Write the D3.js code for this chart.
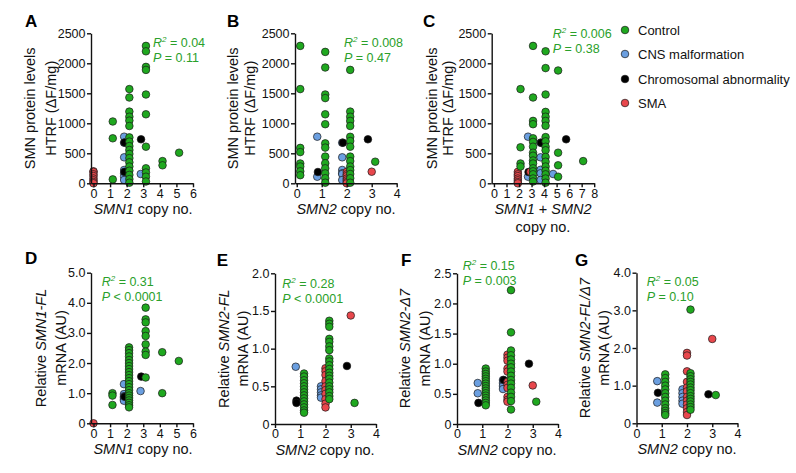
<!DOCTYPE html>
<html><head><meta charset="utf-8">
<script src="https://cdn.jsdelivr.net/npm/d3@7"></script>
<style>body{margin:0;background:#fff;} svg{display:block;font-family:Arial,"Liberation Sans",sans-serif;}</style>
</head><body><svg id="c" width="796" height="473"></svg>
<script>
// ---------- DATA ----------
const groupNames = ["Control", "CNS malformation", "Chromosomal abnormality", "SMA"];

// each entry: [copy number, [values...]]
const A_control = [[1,[1030,750,65]],[2,[1570,1430,1195,1110,1045,955,765,695,620,555,490,420,350,280,210,140,70,10]],[3,[2290,2200,1940,1890,1480,1150,610,250,180,110,30]],[4,[370,300]],[5,[510]]];
const A_cns = [[2,[777,677,433,222,167,110,55]],[3,[155]]];
const A_chrom = [[2,[680,190]],[3,[733]]];
const A_sma = [[0,[200,190,150,120,80,50,20,0]]];

const B_control = [[0,[2290,1570,590,520,330,280,200,135]],[1,[2190,1930,1480,1420,1150,985,665,595,445,335,250,165,85,10]],[2,[1890,1195,1110,1040,955,775,705,610,445,370,280,220,155,85,10]],[3,[360]]];
const B_cns = [[1,[777,110]],[2,[677,433,222,167,155,55]]];
const B_chrom = [[1,[188]],[2,[677]],[3,[733]]];
const B_sma = [[2,[190,150,120,80,50,20,0]],[3,[193]]];

const C_control = [[2,[1570,600,330,280]],[3,[2290,1430,1040,985,750,690,610,510,460,380,330,250,200,150,80,30]],[4,[2200,1920,1480,1190,1110,1040,960,770,700,610,550,440,360,280,210,150,80,10]],[5,[1880,510,300,110]],[7,[370]]];
const C_cns = [[3,[777,110]],[4,[677,433,225,167,55]],[5,[155]]];
const C_chrom = [[3,[188]],[4,[677]],[6,[733]]];
const C_sma = [[2,[190,150,120,80,50,20,0]],[3,[193]]];

const D_control = [[1,[1.0,0.92,0.61]],[2,[2.52,2.43,2.33,2.22,2.1,2.0,1.9,1.8,1.7,1.6,1.5,1.4,1.3,1.2,1.1,1.0,0.92,0.84,0.76,0.68,0.6,0.53]],[3,[3.84,3.45,3.35,3.06,2.9,2.62,2.38,2.27,1.52]],[4,[2.36,1.0]],[5,[2.07]]];
const D_cns = [[2,[1.3,0.97,0.9,0.85,0.8,0.75]],[3,[1.07]]];
const D_chrom = [[2,[0.88]],[3,[1.55]]];
const D_sma = [[0,[0]]];

const E_control = [[1,[0.67,0.63,0.58,0.54,0.5,0.46,0.42,0.38,0.34,0.3,0.26,0.22,0.18,0.15]],[2,[1.37,1.33,1.29,1.13,1.09,1.03,0.98,0.87,0.83,0.78,0.73,0.68,0.64,0.6,0.55,0.5,0.46,0.42,0.37,0.33]],[3,[0.28]]];
const E_cns = [[1,[0.76]],[2,[0.5,0.46,0.42,0.38,0.35]]];
const E_chrom = [[1,[0.31,0.28]],[3,[0.77]]];
const E_sma = [[2,[0.74,0.7,0.65,0.57,0.5,0.45,0.4,0.33,0.27,0.22]],[3,[1.44]]];

const F_control = [[1,[0.92,0.87,0.83,0.79,0.75,0.71,0.67,0.63,0.59,0.55,0.51,0.47,0.43,0.39,0.35,0.31]],[2,[2.22,1.52,1.22,1.14,1.07,1.0,0.94,0.87,0.8,0.73,0.67,0.6,0.52,0.45,0.38,0.24]],[3,[0.37]]];
const F_cns = [[1,[0.68,0.51]],[2,[0.73,0.68,0.63,0.58]]];
const F_chrom = [[1,[0.35]],[2,[0.73]],[3,[1.0]]];
const F_sma = [[2,[1.15,1.1,1.05,0.92,0.87,0.7,0.65,0.6,0.45,0.4,0.37]],[3,[0.64]]];

const G_control = [[1,[1.3,1.2,1.1,1.0,0.9,0.8,0.7,0.6,0.5,0.4,0.33,0.27,0.22]],[2,[3.02,1.33,1.25,1.17,1.1,1.03,0.95,0.88,0.8,0.72,0.65,0.58,0.5,0.43,0.36]],[3,[0.75]]];
const G_cns = [[1,[1.12,0.55]],[2,[0.9,0.8,0.7,0.6,0.52]]];
const G_chrom = [[1,[0.81]],[3,[0.77]]];
const G_sma = [[2,[1.87,1.8,1.38,1.1,0.95,0.85,0.7,0.6,0.5,0.4,0.3,0.22]],[3,[2.24]]];

const statsR2 = {A:"0.04",B:"0.008",C:"0.006",D:"0.31",E:"0.28",F:"0.15",G:"0.05"};
const statsP = {A:"= 0.11",B:"= 0.47",C:"= 0.38",D:"< 0.0001",E:"< 0.0001",F:"= 0.003",G:"= 0.10"};

const xTicksA = [0,1,2,3,4,5,6];
const xTicks4 = [0,1,2,3,4];
const xTicksC = [0,1,2,3,4,5,6,7,8];
const yTicksProtein = [0,500,1000,1500,2000,2500];
const yTicksD = [0,1,2,3,4,5];
const yTicksE = [0,0.5,1,1.5,2];
const yTicksF = [0,0.5,1,1.5,2,2.5];
const yTicksG = [0,1,2,3,4];

// ---------- STYLE ----------
const colors = ["#1fa81f", "#6b9fe0", "#000000", "#e8474c"];
const green = "#2aa02a";
const svg = d3.select("#c");

const panels = [
 {id:"A", data:[A_cns,A_chrom,A_sma,A_control], gi:[1,2,3,0], xr:[91,193], xd:[-0.15,6], xt:xTicksA, yr:[183.3,33.3], yd:[0,2500], yt:yTicksProtein, yf:d=>d,
  lab:[25,27], yTitle:[["SMN protein levels"],["HTRF (ΔF/mg)"]], yOff:[-61,-40], xTitle:[[["SMN1",1],[" copy no.",0]]], xtc:143, st:[153,46.5], off:[2.7,-2.5,-2.2,0]},
 {id:"B", data:[B_cns,B_chrom,B_sma,B_control], gi:[1,2,3,0], xr:[295,396.7], xd:[-0.07,4], xt:xTicks4, yr:[183.3,33.3], yd:[0,2500], yt:yTicksProtein, yf:d=>d,
  lab:[227,27], yTitle:[["SMN protein levels"],["HTRF (ΔF/mg)"]], yOff:[-62,-45], xTitle:[[["SMN2",1],[" copy no.",0]]], xtc:346, st:[344,46.5], off:[3.5,-4.5,-3.8,0]},
 {id:"C", data:[C_cns,C_chrom,C_sma,C_control], gi:[1,2,3,0], xr:[491.7,594.2], xd:[-0.18,8], xt:xTicksC, yr:[183.3,33.3], yd:[0,2500], yt:yTicksProtein, yf:d=>d,
  lab:[423,27], yTitle:[["SMN protein levels"],["HTRF (ΔF/mg)"]], yOff:[-60,-44], xTitle:[[["SMN1",1],[" + ",0],["SMN2",1]],[["copy no.",0]]], xtc:543, st:[552.7,37.5], off:[1.5,-3.5,-3,-1.2]},
 {id:"D", data:[D_cns,D_chrom,D_sma,D_control], gi:[1,2,3,0], xr:[91,193], xd:[-0.15,6], xt:xTicksA, yr:[423.3,272.7], yd:[0,5], yt:yTicksD, yf:d=>d===0?"0":d3.format(".1f")(d),
  lab:[25,264], yTitle:[["Relative ",0],["SMN1-FL",1]], yTitle2:"mRNA (AU)", yOff:[-50,-30], xTitle:[[["SMN1",1],[" copy no.",0]]], xtc:143, st:[101.7,285.5], off:[2.4,-2.7,-2,0]},
 {id:"E", data:[E_cns,E_chrom,E_sma,E_control], gi:[1,2,3,0], xr:[275,376], xd:[0,4], xt:xTicks4, yr:[424,273.3], yd:[0,2], yt:yTicksE, yf:d=>d===0?"0":d3.format(".1f")(d),
  lab:[216.7,265.5], yTitle:[["Relative ",0],["SMN2-FL",1]], yTitle2:"mRNA (AU)", yOff:[-51,-32.5], xTitle:[[["SMN2",1],[" copy no.",0]]], xtc:325, st:[282.3,288], off:[3.8,-4.5,-3.8,0]},
 {id:"F", data:[F_cns,F_chrom,F_sma,F_control], gi:[1,2,3,0], xr:[457,558], xd:[0,4], xt:xTicks4, yr:[424,273.3], yd:[0,2.5], yt:yTicksF, yf:d=>d===0?"0":d3.format(".1f")(d),
  lab:[401,265.5], yTitle:[["Relative ",0],["SMN2-Δ7",1]], yTitle2:"mRNA (AU)", yOff:[-52,-32.5], xTitle:[[["SMN2",1],[" copy no.",0]]], xtc:507, st:[462.7,269.5], off:[3.5,-4.5,-3.8,0]},
 {id:"G", data:[G_cns,G_chrom,G_sma,G_control], gi:[1,2,3,0], xr:[636.5,737.5], xd:[0,4], xt:xTicks4, yr:[423.3,272.7], yd:[0,4], yt:yTicksG, yf:d=>d===0?"0":d3.format(".1f")(d),
  lab:[575,265.5], yTitle:[["Relative ",0],["SMN2-FL/Δ7",1]], yTitle2:"mRNA (AU)", yOff:[-52,-32.5], xTitle:[[["SMN2",1],[" copy no.",0]]], xtc:687, st:[646.7,285.5], off:[3.5,-4.5,-3.8,0]}
];

function addRuns(textSel, runs){
  runs.forEach(r=>{
    const t = Array.isArray(r)? r : [r,0];
    textSel.append("tspan").text(t[0]).attr("font-style", t[1]?"italic":"normal");
  });
}

panels.forEach(p=>{
  const x = d3.scaleLinear().domain(p.xd).range(p.xr);
  const y = d3.scaleLinear().domain(p.yd).range(p.yr);
  const g = svg.append("g");
  const x0 = p.xr[0];

  // points
  p.data.forEach((arr,k)=>{
    const gi = p.gi[k];
    const pts = [];
    arr.forEach(([c,vals])=>vals.forEach(v=>pts.push([c,v])));
    g.selectAll(null).data(pts).join("circle")
      .attr("cx", d=>x(d[0]) + p.off[gi])
      .attr("cy", d=>y(d[1]))
      .attr("r", 3.8)
      .attr("fill", colors[gi])
      .attr("stroke", "#1a1a1a")
      .attr("stroke-width", 0.7);
  });

  // axes
  const ya = g.append("g").attr("transform",`translate(${x0},0)`)
    .call(d3.axisLeft(y).tickValues(p.yt).tickFormat(p.yf).tickSize(4).tickSizeOuter(0).tickPadding(1.5));
  const xa = g.append("g").attr("transform",`translate(0,${p.yr[0]})`)
    .call(d3.axisBottom(x).tickValues(p.xt).tickFormat(d3.format("d")).tickSize(4).tickSizeOuter(0).tickPadding(1.5));
  [ya,xa].forEach(a=>{
    a.selectAll("path,line").attr("stroke","#111").attr("stroke-width",1.4);
    a.selectAll("text").attr("font-size",12.5).attr("fill","#111").attr("font-family","Arial, 'Liberation Sans', sans-serif");
  });

  // panel label
  g.append("text").attr("x",p.lab[0]).attr("y",p.lab[1]).text(p.id)
    .attr("font-size",17).attr("font-weight","bold").attr("fill","#000");

  // y titles
  const yc = (p.yr[0]+p.yr[1])/2;
  const t1 = g.append("text").attr("transform",`translate(${x0+p.yOff[0]},${yc}) rotate(-90)`)
    .attr("text-anchor","middle").attr("dominant-baseline","central").attr("font-size",14.5).attr("fill","#111");
  addRuns(t1, p.yTitle.length===2 && !p.yTitle2 ? [p.yTitle[0]] : p.yTitle);
  const t2 = g.append("text").attr("transform",`translate(${x0+p.yOff[1]},${yc}) rotate(-90)`)
    .attr("text-anchor","middle").attr("dominant-baseline","central").attr("font-size",14.5).attr("fill","#111");
  addRuns(t2, p.yTitle2 ? [[p.yTitle2,0]] : [p.yTitle[1]]);

  // x titles
  p.xTitle.forEach((line,i)=>{
    const t = g.append("text").attr("x",p.xtc).attr("y",p.yr[0]+31+i*18)
      .attr("text-anchor","middle").attr("font-size",14.5).attr("fill","#111");
    addRuns(t,line);
  });

  // stats
  const s1 = g.append("text").attr("x",p.st[0]).attr("y",p.st[1]).attr("font-size",12.5).attr("fill",green);
  s1.append("tspan").text("R").attr("font-style","italic");
  s1.append("tspan").text("2").attr("font-size",8).attr("dy",-5).attr("font-style","italic");
  s1.append("tspan").text(" = "+statsR2[p.id]).attr("dy",5);
  const s2 = g.append("text").attr("x",p.st[0]).attr("y",p.st[1]+15).attr("font-size",12.5).attr("fill",green);
  s2.append("tspan").text("P").attr("font-style","italic");
  s2.append("tspan").text(" "+statsP[p.id]);
});

// legend
const legY = [30, 54, 79, 103];
const leg = svg.append("g");
groupNames.forEach((n,i)=>{
  leg.append("circle").attr("cx",625).attr("cy",legY[i]).attr("r",3.8)
    .attr("fill",colors[i]).attr("stroke","#1a1a1a").attr("stroke-width",0.7);
  leg.append("text").attr("x",638).attr("y",legY[i]+4.5).text(n).attr("font-size",13).attr("fill","#111");
});
</script>
</body></html>
